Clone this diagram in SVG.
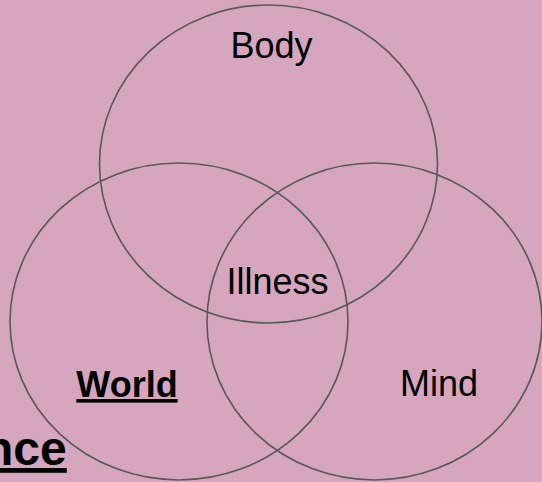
<svg xmlns="http://www.w3.org/2000/svg" width="542" height="482" viewBox="0 0 542 482">
<style>
.ring{fill:none;stroke:#595959;stroke-width:1.6}
.lbl{font-family:"Liberation Sans",Arial,sans-serif;font-size:36px;fill:#000;text-anchor:middle}
.bold{font-weight:bold;text-decoration:underline}
</style>
<rect x="0" y="0" width="542" height="482" fill="#d5a6bd"/>
<g id="body">
<ellipse class="ring" cx="268.5" cy="164" rx="169" ry="159"/>
<text class="lbl" x="271.5" y="58">Body</text>
</g>
<g id="world">
<ellipse class="ring" cx="179" cy="321.5" rx="169" ry="158.5"/>
<text class="lbl bold" x="127" y="397">World</text>
</g>
<g id="mind">
<ellipse class="ring" cx="374.5" cy="321.5" rx="167.5" ry="158.5"/>
<text class="lbl" x="439" y="396">Mind</text>
</g>
<g id="illness">
<text class="lbl" x="277.5" y="294">Illness</text>
</g>
<g id="caption">
<text class="lbl bold" x="-16" y="465" style="font-size:48px;text-anchor:start">nce</text>
</g>
<g id="connectors"></g>
</svg>
